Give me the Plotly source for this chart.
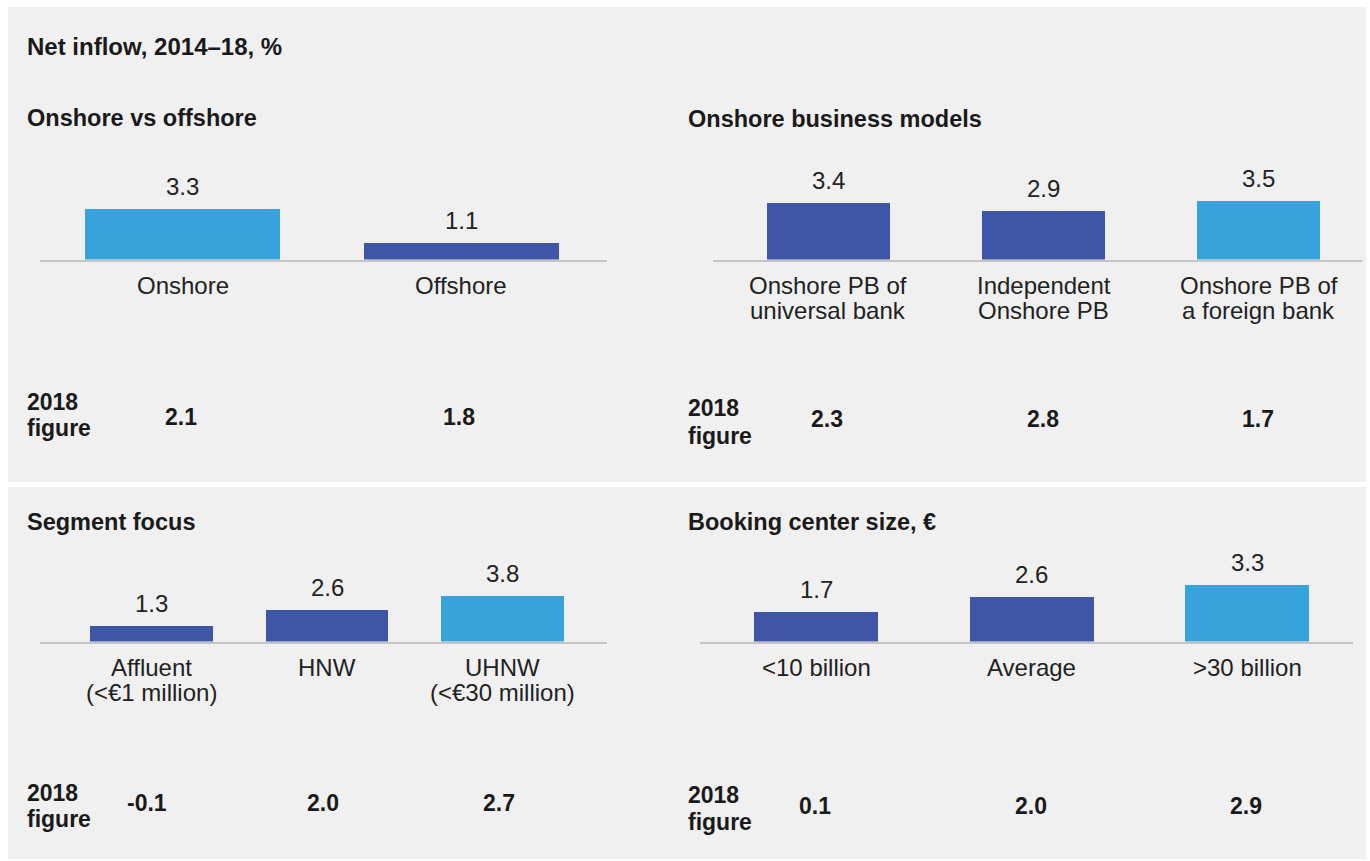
import plotly.graph_objects as go

W, H = 1370, 861

# ---------------- data ----------------
chart_title = "Net inflow, 2014–18, %"
row_label = "2018<br>figure"

onshore_offshore_title = "Onshore vs offshore"
onshore_offshore_cats = ["Onshore", "Offshore"]
onshore_offshore_vals = [3.3, 1.1]
onshore_offshore_2018 = ["2.1", "1.8"]

business_model_title = "Onshore business models"
business_model_cats = ["Onshore PB of<br>universal bank", "Independent<br>Onshore PB",
                       "Onshore PB of<br>a foreign bank"]
business_model_vals = [3.4, 2.9, 3.5]
business_model_2018 = ["2.3", "2.8", "1.7"]

segment_title = "Segment focus"
segment_cats = ["Affluent<br>(&lt;€1 million)", "HNW", "UHNW<br>(&lt;€30 million)"]
segment_vals = [1.3, 2.6, 3.8]
segment_2018 = ["-0.1", "2.0", "2.7"]

booking_title = "Booking center size, €"
booking_cats = ["&lt;10 billion", "Average", "&gt;30 billion"]
booking_vals = [1.7, 2.6, 3.3]
booking_2018 = ["0.1", "2.0", "2.9"]

# ---------------- styles ----------------
DARK = "#3f56a6"
LIGHT = "#38a3db"
PANEL = "#f0f0f0"
TXT = "#1a1a1a"
FONT = "Liberation Sans, Arial, sans-serif"

panels = [
    dict(title=onshore_offshore_title, cats=onshore_offshore_cats, vals=onshore_offshore_vals,
         f18=onshore_offshore_2018, colors=[LIGHT, DARK],
         x0=40, x1=607, base=259.5, ppu=15.6, rng=[-0.512, 1.524], bw=0.70,
         tx=25, ty=118, fy=(402, 428), vy=417, vxs=-2),
    dict(title=business_model_title, cats=business_model_cats, vals=business_model_vals,
         f18=business_model_2018, colors=[DARK, DARK, LIGHT],
         x0=713, x1=1362, base=259.5, ppu=16.8, rng=[-0.537, 2.481], bw=0.57,
         tx=686, ty=119, fy=(408, 436), vy=419, vxs=-1),
    dict(title=segment_title, cats=segment_cats, vals=segment_vals,
         f18=segment_2018, colors=[DARK, DARK, LIGHT],
         x0=40, x1=607, base=641.5, ppu=12.2, rng=[-0.635, 2.595], bw=0.70,
         tx=25, ty=522, fy=(793, 819), vy=803, vxs=-4),
    dict(title=booking_title, cats=booking_cats, vals=booking_vals,
         f18=booking_2018, colors=[DARK, DARK, LIGHT],
         x0=700, x1=1353, base=641.5, ppu=17.4, rng=[-0.538, 2.49], bw=0.575,
         tx=686, ty=522, fy=(795, 822), vy=806, vxs=-1),
]


def px_x(x):
    return x / W


def px_y(y):
    return 1 - y / H


fig = go.Figure()
annotations = []
layout_axes = {}

annotations.append(dict(text="<b>" + chart_title + "</b>", x=px_x(25), y=px_y(46),
                        xref="paper", yref="paper", xanchor="left", yanchor="middle",
                        showarrow=False, font=dict(family=FONT, size=24, color=TXT)))

PLOT_H = 130
for i, p in enumerate(panels):
    n = "" if i == 0 else str(i + 1)
    xa, ya = "x" + n, "y" + n
    fig.add_trace(go.Bar(
        x=list(range(len(p["cats"]))), y=p["vals"], width=p["bw"],
        marker=dict(color=p["colors"], line=dict(width=0)),
        xaxis=xa, yaxis=ya, hoverinfo="skip",
    ))
    layout_axes["xaxis" + n] = dict(
        domain=[px_x(p["x0"]), px_x(p["x1"])], range=p["rng"], anchor=ya,
        showline=True, linecolor="#c4c4c4", linewidth=2, layer="below traces",
        showgrid=False, zeroline=False, showticklabels=False, ticks="", fixedrange=True,
    )
    layout_axes["yaxis" + n] = dict(
        domain=[px_y(p["base"]), px_y(p["base"] - PLOT_H)], range=[0, PLOT_H / p["ppu"]],
        anchor=xa, visible=False, showgrid=False, zeroline=False, fixedrange=True,
    )
    # subtitle
    annotations.append(dict(text="<b>" + p["title"] + "</b>", x=px_x(p["tx"]), y=px_y(p["ty"]),
                            xref="paper", yref="paper", xanchor="left", yanchor="middle",
                            showarrow=False, font=dict(family=FONT, size=23.5, color=TXT)))
    # "2018 figure" label
    for k, line in enumerate(row_label.split("<br>")):
        annotations.append(dict(text="<b>" + line + "</b>", x=px_x(p["tx"]), y=px_y(p["fy"][k]),
                                xref="paper", yref="paper", xanchor="left", yanchor="middle",
                                showarrow=False, font=dict(family=FONT, size=23, color=TXT)))
    for j, (cat, v, f) in enumerate(zip(p["cats"], p["vals"], p["f18"])):
        # value label above bar
        annotations.append(dict(text=f"{v:.1f}", x=j, y=v, xref=xa, yref=ya,
                                yshift=22, xanchor="center", yanchor="middle", showarrow=False,
                                font=dict(family=FONT, size=24, color="#222222")))
        # category label lines
        for k, line in enumerate(cat.split("<br>")):
            annotations.append(dict(text=line, x=j, y=px_y(p["base"] + 26 + 25 * k),
                                    xref=xa, yref="paper", xanchor="center", yanchor="middle",
                                    showarrow=False,
                                    font=dict(family=FONT, size=24, color="#222222")))
        # 2018 figure value
        annotations.append(dict(text="<b>" + f + "</b>", x=j, y=px_y(p["vy"]), xref=xa,
                                yref="paper", xshift=p["vxs"], xanchor="center",
                                yanchor="middle", showarrow=False,
                                font=dict(family=FONT, size=23, color=TXT)))

shapes = [
    dict(type="rect", xref="paper", yref="paper", x0=px_x(8), x1=px_x(1366),
         y0=px_y(482), y1=px_y(7), fillcolor=PANEL, line=dict(width=0), layer="below"),
    dict(type="rect", xref="paper", yref="paper", x0=px_x(8), x1=px_x(1366),
         y0=px_y(859), y1=px_y(487), fillcolor=PANEL, line=dict(width=0), layer="below"),
]

fig.update_layout(
    width=W, height=H, margin=dict(l=0, r=0, t=0, b=0),
    paper_bgcolor="white", plot_bgcolor="rgba(0,0,0,0)",
    showlegend=False, hovermode=False, bargap=0,
    annotations=annotations, shapes=shapes,
    font=dict(family=FONT, color=TXT),
    **layout_axes,
)

fig.write_html("out.html", config={"displayModeBar": False},
               post_script="document.body.style.margin='0';document.body.style.overflow='hidden';")
